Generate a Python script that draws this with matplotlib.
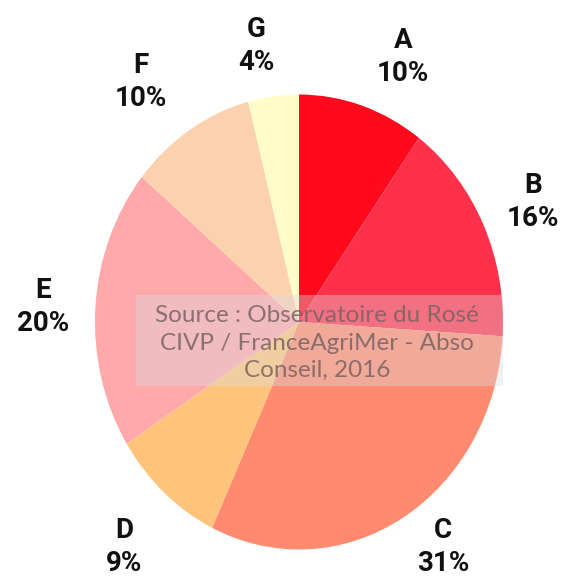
import matplotlib
matplotlib.use("Agg")
import matplotlib.pyplot as plt
from matplotlib.patches import Rectangle

# ---- data ----
categories = ["A", "B", "C", "D", "E", "F", "G"]
shares = [10, 16, 31, 9, 20, 10, 4]
pct_labels = ["10%", "16%", "31%", "9%", "20%", "10%", "4%"]
source_text = "Source : Observatoire du Rosé\nCIVP / FranceAgriMer - Abso\nConseil, 2016"

# ---- styles / layout ----
colors = ["#FE0A1C", "#FF3049", "#FF8A6F", "#FFC47C", "#FFA9AA", "#FCD1AD", "#FFFCC9"]
label_pos = [(0.51, 1.165), (1.147, 0.527), (0.706, -0.989), (-0.858, -0.989),
             (-1.255, 0.066), (-0.775, 1.055), (-0.211, 1.213)]

W, H = 564, 581
fig = plt.figure(figsize=(W / 100, H / 100), dpi=100)
ax = fig.add_axes([0, 0, 1, 1])

ax.pie(shares, colors=colors, startangle=90, counterclock=False,
       wedgeprops=dict(linewidth=0))
ax.set_aspect("auto")
cx, cy, rx, ry = 299, 322, 204, 227.5
ax.set_xlim(-cx / rx, (W - cx) / rx)
ax.set_ylim(-(H - cy) / ry, cy / ry)
ax.axis("off")

for cat, pct, (x, y) in zip(categories, pct_labels, label_pos):
    ax.text(x, y, f"{cat}\n{pct}", ha="center", va="center",
            fontsize=20, fontweight="bold", family=["Roboto", "DejaVu Sans"],
            linespacing=1.25, color="#111111")

# overlay box
x0, x1 = (136 - cx) / rx, (503 - cx) / rx
y0, y1 = (cy - 386) / ry, (cy - 295) / ry
ax.add_patch(Rectangle((x0, y0), x1 - x0, y1 - y0, facecolor="#DCDCE2",
                       alpha=0.38, edgecolor="none", zorder=5))
ax.text((317 - cx) / rx, (cy - 343) / ry, source_text, ha="center", va="center",
        fontsize=17.5, family=["Lato", "DejaVu Sans"], color="#7a6262", alpha=0.85,
        linespacing=1.39, zorder=6)

fig.savefig("out.png", dpi=100)
